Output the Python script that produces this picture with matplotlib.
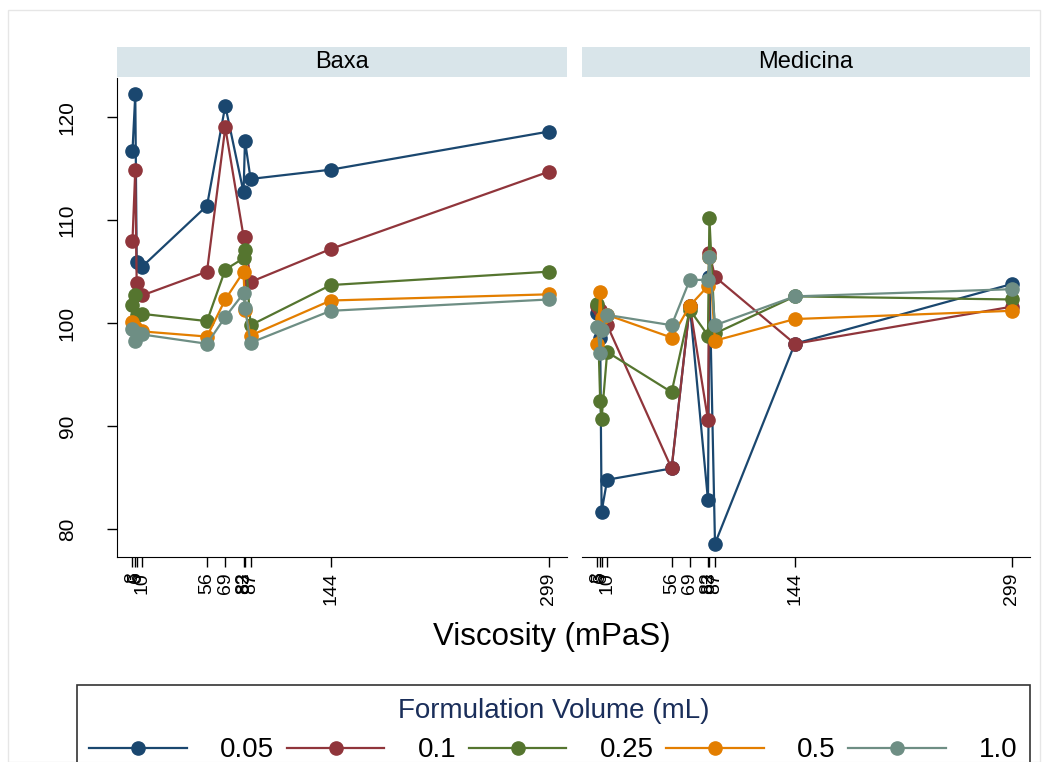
import matplotlib
matplotlib.use("Agg")
import matplotlib.pyplot as plt
from matplotlib.patches import Rectangle

plt.rcParams['font.family'] = ['Liberation Sans', 'DejaVu Sans']

# viscosity values (mPaS) shared by both devices
visc = [3, 5, 6, 10, 56, 69, 82, 83, 87, 144, 299]
visc_ticks = [3, 5, 6, 10, 56, 69, 82, 83, 87, 144, 299]

volumes = ['0.05', '0.1', '0.25', '0.5', '1.0']
colors = ['#1a476f', '#90353b', '#55752f', '#e37e00', '#6e8e84']

# Baxa
baxa_005 = [116.7, 122.2, 105.9, 105.5, 111.4, 121.1, 112.7, 117.7, 114.0, 114.9, 118.6]
baxa_01 = [108.0, 114.9, 103.9, 102.7, 105.0, 119.0, 108.4, 108.4, 104.0, 107.2, 114.7]
baxa_025 = [101.8, 102.7, 100.8, 100.9, 100.2, 105.2, 106.3, 107.1, 99.8, 103.7, 105.0]
baxa_05 = [100.1, 99.6, 99.3, 99.2, 98.7, 102.3, 105.0, 101.3, 98.8, 102.2, 102.8]
baxa_10 = [99.4, 98.3, 99.0, 98.9, 98.0, 100.6, 102.9, 101.5, 98.1, 101.2, 102.3]

# Medicina
med_005 = [101.0, 98.6, 81.7, 84.8, 85.9, 101.7, 82.8, 104.5, 78.6, 98.0, 103.8]
med_01 = [101.7, 101.3, 101.0, 99.8, 85.9, 101.7, 90.6, 106.8, 104.5, 98.0, 101.6]
med_025 = [101.9, 92.4, 90.7, 97.2, 93.3, 101.3, 98.8, 110.2, 99.0, 102.6, 102.3]
med_05 = [98.0, 103.0, 100.5, 100.8, 98.6, 101.7, 103.6, 106.4, 98.3, 100.4, 101.2]
med_10 = [99.6, 97.1, 99.3, 100.8, 99.8, 104.2, 104.2, 106.4, 99.8, 102.6, 103.3]

panels = [('Baxa', [baxa_005, baxa_01, baxa_025, baxa_05, baxa_10]),
          ('Medicina', [med_005, med_01, med_025, med_05, med_10])]

W, H = 1045, 762
fig = plt.figure(figsize=(W / 100, H / 100), dpi=100)

# light outer frame of the graph region
fig.patches.append(Rectangle((8 / W, 0), 1032 / W, 1 - 10 / H, transform=fig.transFigure,
                             fill=False, edgecolor='#e6e6e6', linewidth=1))

ax_left = [117, 582]
ax_width = [450, 448]
top, bottom = 78, 557
strip_h = 30

for i, (name, series) in enumerate(panels):
    ax = fig.add_axes([ax_left[i] / W, 1 - bottom / H, ax_width[i] / W, (bottom - top) / H])
    for vals, vol, c in zip(series, volumes, colors):
        ax.plot(visc, vals, color=c, marker='o', markersize=9.5, linewidth=1.6,
                markeredgecolor=c, label=vol)
    ax.set_xlim(-8, 312)
    ax.set_ylim(77.3, 123.8)
    ax.set_xticks(visc_ticks)
    ax.set_xticklabels([str(v) for v in visc_ticks], rotation=90, fontsize=14)
    ax.tick_params(axis='x', length=7, width=1, pad=4)
    ax.spines['top'].set_visible(False)
    ax.spines['right'].set_visible(False)
    if i == 0:
        ax.set_yticks([80, 90, 100, 110, 120])
        ax.set_yticklabels(['80', '90', '100', '110', '120'], rotation=90, va='center', fontsize=15)
        ax.tick_params(axis='y', length=7, width=1, pad=22)
    else:
        ax.spines['left'].set_visible(False)
        ax.set_yticks([])

    # facet strip
    sax = fig.add_axes([ax_left[i] / W, 1 - (top - 1) / H, ax_width[i] / W, strip_h / H])
    sax.set_facecolor('#d9e5ea')
    for s in sax.spines.values():
        s.set_visible(False)
    sax.set_xticks([])
    sax.set_yticks([])
    sax.text(0.5, 0.5, name, ha='center', va='center', fontsize=17, transform=sax.transAxes)

    if i == 0:
        handles, labels = ax.get_legend_handles_labels()

fig.text(552 / W, 1 - 637 / H, 'Viscosity (mPaS)', ha='center', va='center', fontsize=22.5)

leg = fig.legend(handles, labels, loc='upper left', ncol=5, mode='expand',
                 bbox_to_anchor=(77 / W, -0.05, 953 / W, 1 - 685 / H + 0.05),
                 borderaxespad=0, fontsize=20, title='Formulation Volume (mL)',
                 title_fontsize=20, handlelength=3.5, handletextpad=1.2,
                 frameon=True, fancybox=False,
                 edgecolor='black', borderpad=0.45, columnspacing=0.8)
leg.get_title().set_color('#1a2e5a')
leg.get_frame().set_linewidth(1.2)

fig.savefig('out.png', dpi=100, facecolor='white')
